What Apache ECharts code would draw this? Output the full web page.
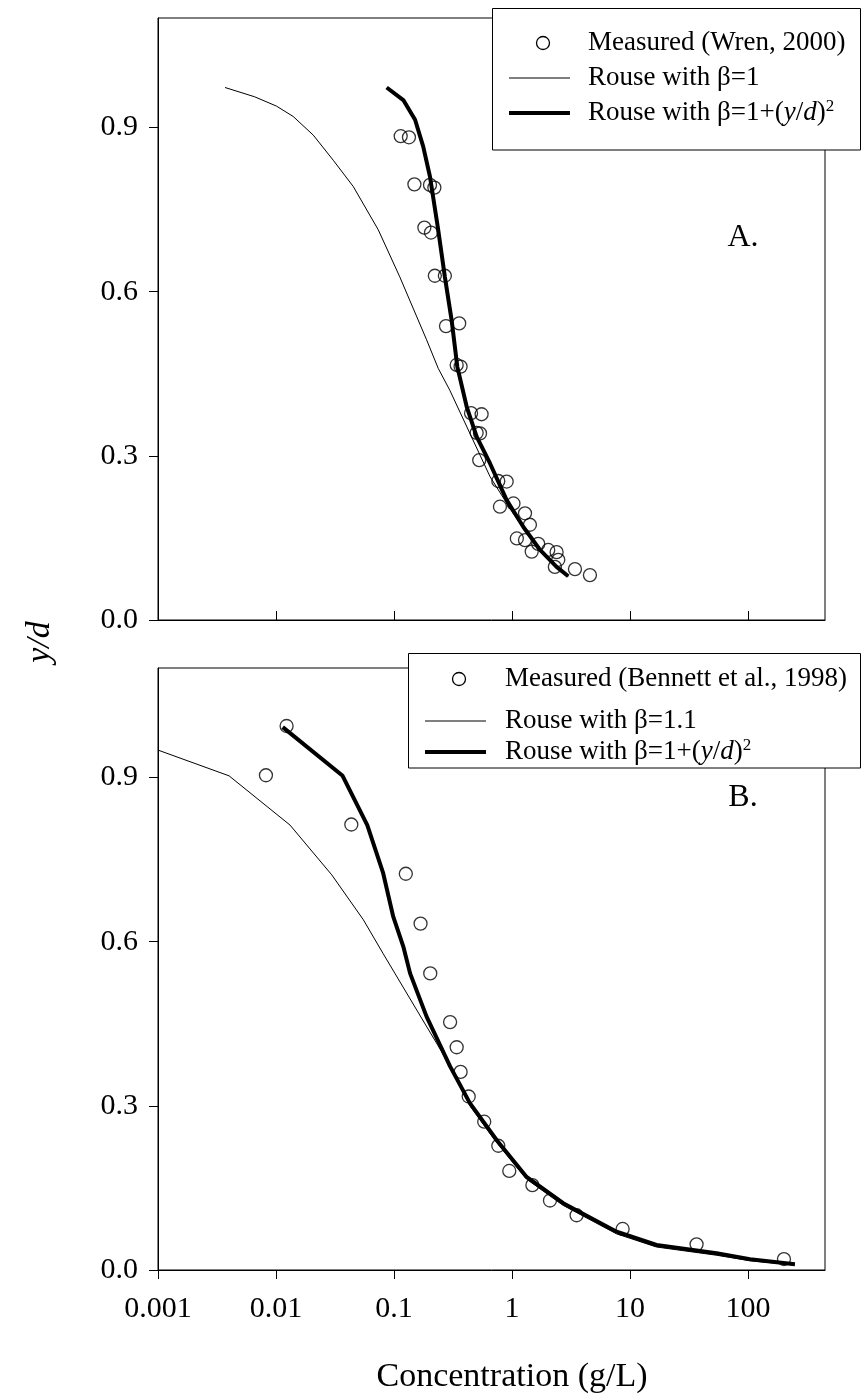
<!DOCTYPE html>
<html><head><meta charset="utf-8">
<script src="https://cdn.jsdelivr.net/npm/echarts@6/dist/echarts.min.js"></script>
<style>html,body{margin:0;padding:0;background:#fff}#c{width:862px;height:1398px}</style>
</head><body><div id="c"></div>
<script>
// ---------- data ----------
const xTicks = [0.001, 0.01, 0.1, 1, 10, 100];
const yTicks = [0, 0.3, 0.6, 0.9];

// Panel A (Wren, 2000)
const measA_x = [0.114, 0.134, 0.149, 0.202, 0.220, 0.181, 0.206, 0.222, 0.270, 0.276, 0.357, 0.340, 0.367, 0.450, 0.553, 0.502, 0.536, 0.528, 0.766, 0.902, 0.791, 1.03, 1.29, 1.10, 1.29, 1.42, 1.47, 1.67, 2.03, 2.39, 2.47, 2.31, 3.42, 4.58];
const measA_y = [0.884, 0.882, 0.796, 0.795, 0.790, 0.717, 0.708, 0.629, 0.629, 0.537, 0.542, 0.466, 0.463, 0.378, 0.376, 0.342, 0.341, 0.292, 0.254, 0.253, 0.207, 0.213, 0.195, 0.149, 0.146, 0.174, 0.125, 0.139, 0.128, 0.124, 0.110, 0.097, 0.093, 0.082];
const thinA_x = [0.0037, 0.0066, 0.0101, 0.014, 0.0207, 0.0306, 0.0452, 0.0736, 0.112, 0.189, 0.237, 0.297, 0.652, 1.0, 1.73, 3.0];
const thinA_y = [0.973, 0.956, 0.939, 0.920, 0.886, 0.840, 0.792, 0.713, 0.627, 0.512, 0.460, 0.420, 0.262, 0.198, 0.125, 0.080];
const thickA_x = [0.0867, 0.120, 0.151, 0.177, 0.202, 0.237, 0.270, 0.308, 0.344, 0.413, 0.502, 0.652, 0.902, 1.25, 1.73, 2.39, 3.0];
const thickA_y = [0.973, 0.950, 0.914, 0.865, 0.810, 0.713, 0.627, 0.548, 0.463, 0.390, 0.335, 0.286, 0.219, 0.170, 0.128, 0.097, 0.080];

// Panel B (Bennett et al., 1998)
const measB_x = [0.0123, 0.00822, 0.0435, 0.126, 0.168, 0.203, 0.299, 0.340, 0.367, 0.430, 0.582, 0.766, 0.949, 1.49, 2.10, 3.53, 8.67, 36.7, 202];
const measB_y = [0.994, 0.904, 0.814, 0.724, 0.633, 0.542, 0.453, 0.407, 0.362, 0.317, 0.271, 0.227, 0.181, 0.155, 0.127, 0.100, 0.075, 0.047, 0.020];
const thinB_x = [0.001, 0.0040, 0.01315, 0.0297, 0.055, 0.081, 0.156, 0.279, 0.44, 0.741, 1.33, 2.72, 7.71, 16.8, 54.2, 104, 250];
const thinB_y = [0.950, 0.903, 0.813, 0.722, 0.640, 0.578, 0.475, 0.384, 0.300, 0.233, 0.166, 0.118, 0.066, 0.042, 0.027, 0.017, 0.009];
const thickB_x = [0.0114, 0.0367, 0.0594, 0.081, 0.0986, 0.120, 0.137, 0.189, 0.299, 0.44, 0.741, 1.33, 2.72, 7.71, 16.8, 54.2, 104, 250];
const thickB_y = [0.992, 0.903, 0.813, 0.725, 0.6455, 0.591, 0.542, 0.463, 0.372, 0.305, 0.2375, 0.170, 0.122, 0.070, 0.0457, 0.0305, 0.0195, 0.0104];

const legA = ['Measured (Wren, 2000)', 'Rouse with β=1', 'Rouse with β=1+(y/d)2'];
const legB = ['Measured (Bennett et al., 1998)', 'Rouse with β=1.1', 'Rouse with β=1+(y/d)2'];

// ---------- build ----------
const FONT = '"Liberation Serif","Times New Roman",Times,serif';
const zip = (xs, ys) => xs.map((x, i) => [x, ys[i]]);

function xAxisCfg(gi, inside, showLabels) {
  return {
    type: 'log', logBase: 10, gridIndex: gi, min: 0.001, max: 450,
    axisLine: { show: true, lineStyle: { color: '#000', width: 1 } },
    axisTick: { show: true, inside: inside, length: 9, customValues: xTicks, lineStyle: { color: '#000', width: 1 } },
    axisLabel: { show: showLabels, customValues: xTicks, formatter: v => String(v), fontFamily: FONT, fontSize: 30, color: '#000', margin: 24 },
    splitLine: { show: false }, minorTick: { show: false }, minorSplitLine: { show: false }
  };
}
function yAxisCfg(gi) {
  return {
    type: 'value', gridIndex: gi, min: 0, max: 1.1,
    axisLine: { show: true, lineStyle: { color: '#000', width: 1 } },
    axisTick: { show: true, inside: false, length: 9, customValues: yTicks, lineStyle: { color: '#000', width: 1 } },
    axisLabel: { customValues: yTicks, formatter: v => v.toFixed(1), fontFamily: FONT, fontSize: 30, color: '#000', margin: 20 },
    splitLine: { show: false }
  };
}
const scatterStyle = { color: 'rgba(0,0,0,0)', borderColor: '#000', borderWidth: 1.3 };
function scatter(name, gi, data) {
  return { name, type: 'scatter', xAxisIndex: gi, yAxisIndex: gi, data, symbol: 'circle', symbolSize: 13, itemStyle: scatterStyle, z: 4 };
}
function line(name, gi, data, w) {
  return { name, type: 'line', xAxisIndex: gi, yAxisIndex: gi, data, showSymbol: false, symbol: 'none', lineStyle: { color: '#000', width: w }, z: 3 };
}

const richBase = {
  n: { fontFamily: FONT, fontSize: 27, color: '#000', lineHeight: 30 },
  i: { fontFamily: FONT, fontSize: 27, fontStyle: 'italic', color: '#000', lineHeight: 30 },
  s: { fontFamily: FONT, fontSize: 17, color: '#000', verticalAlign: 'top', lineHeight: 30 }
};
function legText(str) {
  if (str.endsWith('(y/d)2')) {
    const pre = str.slice(0, str.length - 6);
    return '{n|' + pre + '(}{i|y}{n|/}{i|d}{n|)}{s|2}';
  }
  return '{n|' + str + '}';
}
function txt(x, y, t, extra) {
  return { type: 'text', x, y, z: 110, style: Object.assign({ text: t, fontFamily: FONT, fontSize: 27, fill: '#000', align: 'left', verticalAlign: 'middle' }, extra || {}) };
}
function legend(box, mk, lineX, textX, rows, labels) {
  return [
    { type: 'rect', z: 100, shape: box, style: { fill: '#fff', stroke: '#000', lineWidth: 1 } },
    { type: 'circle', z: 110, shape: { cx: mk, cy: rows[0], r: 6.5 }, style: { fill: 'none', stroke: '#000', lineWidth: 1.3 } },
    { type: 'line', z: 110, shape: { x1: lineX[0], y1: rows[1], x2: lineX[1], y2: rows[1] }, style: { stroke: '#000', lineWidth: 1 } },
    { type: 'line', z: 110, shape: { x1: lineX[0], y1: rows[2], x2: lineX[1], y2: rows[2] }, style: { stroke: '#000', lineWidth: 4 } },
    txt(textX, rows[0], legText(labels[0]), { rich: richBase }),
    txt(textX, rows[1], legText(labels[1]), { rich: richBase }),
    txt(textX, rows[2], legText(labels[2]), { rich: richBase })
  ];
}

const chart = echarts.init(document.getElementById('c'), null, { renderer: 'canvas' });
chart.setOption({
  animation: false,
  backgroundColor: '#fff',
  grid: [
    { left: 158, top: 18, width: 667, height: 602, show: true, borderColor: '#000', borderWidth: 1, backgroundColor: 'transparent' },
    { left: 158, top: 668, width: 667, height: 602, show: true, borderColor: '#000', borderWidth: 1, backgroundColor: 'transparent' }
  ],
  xAxis: [xAxisCfg(0, true, false), xAxisCfg(1, false, true)],
  yAxis: [yAxisCfg(0), yAxisCfg(1)],
  series: [
    scatter(legA[0], 0, zip(measA_x, measA_y)),
    line(legA[1], 0, zip(thinA_x, thinA_y), 1),
    line(legA[2], 0, zip(thickA_x, thickA_y), 4),
    scatter(legB[0], 1, zip(measB_x, measB_y)),
    line(legB[1], 1, zip(thinB_x, thinB_y), 1),
    line(legB[2], 1, zip(thickB_x, thickB_y), 4)
  ],
  graphic: [].concat(
    legend({ x: 492.5, y: 8.5, width: 368, height: 141.5 }, 543, [509, 570], 588, [43, 78, 113], legA),
    legend({ x: 408.5, y: 653.5, width: 452, height: 114.5 }, 459, [425, 486], 505, [679, 721, 752], legB),
    [
      txt(743, 238, 'A.', { fontSize: 32, align: 'center' }),
      txt(743, 798, 'B.', { fontSize: 32, align: 'center' }),
      txt(512, 1377, 'Concentration (g/L)', { fontSize: 34, align: 'center' }),
      { type: 'text', x: 40, y: 642, rotation: Math.PI / 2, z: 110, style: { text: 'y/d', fontFamily: FONT, fontSize: 34, fontStyle: 'italic', fill: '#000', align: 'center', verticalAlign: 'middle' } }
    ]
  )
});
</script></body></html>
